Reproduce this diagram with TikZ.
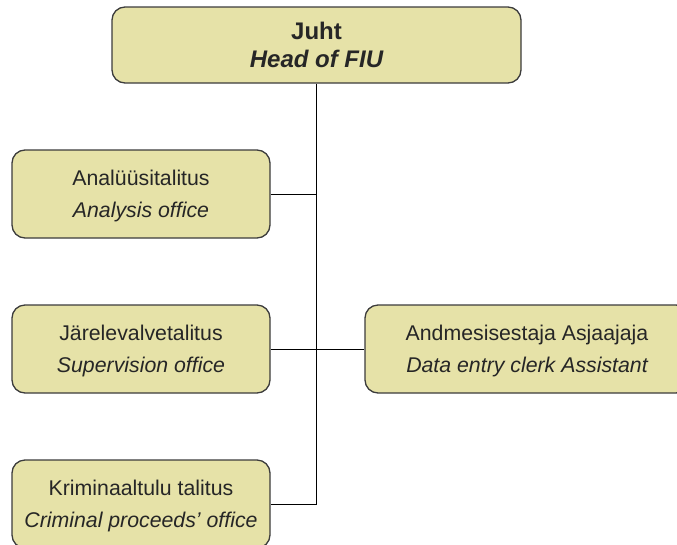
\documentclass[tikz,border=0pt]{standalone}
\usepackage{fontspec}
\setmainfont{Liberation Sans}
\definecolor{boxfill}{RGB}{230,226,168}
\definecolor{boxline}{RGB}{60,60,60}
\begin{document}
\begin{tikzpicture}[x=1pt,y=-1pt,
  unitbox/.style={draw=boxline, line width=1.3pt, fill=boxfill, rounded corners=13pt,
    align=center, inner sep=0pt, minimum height=88pt, text=black!85, text depth=0pt,
    font=\fontsize{21.3}{32}\selectfont},
  headbox/.style={unitbox, minimum height=76pt, font=\fontsize{24}{28}\selectfont\bfseries},
  link/.style={draw=black, line width=1pt}]
\clip (0,0) rectangle (677,544);
\fill[white] (0,0) rectangle (677,544);
\node[headbox, minimum width=409pt] (head) at (316.5,45) {Juht\\\itshape Head of FIU};
\node[unitbox, minimum width=258pt] (ana) at (141,194) {Analüüsitalitus\\\itshape Analysis office};
\node[unitbox, minimum width=258pt] (sup) at (141,349) {Järelevalvetalitus\\\itshape Supervision office};
\node[unitbox, minimum width=258pt] (crim) at (141,504) {Kriminaaltulu talitus\\\itshape Criminal proceeds’ office};
\node[unitbox, minimum width=324pt] (data) at (527,349) {Andmesisestaja Asjaajaja\\\itshape Data entry clerk Assistant};
\draw[link] (head.south) -- (head.south |- crim.east) -- (crim.east);
\draw[link] (ana.east) -- (ana.east -| head.south);
\draw[link] (sup.east) -- (data.west);
\end{tikzpicture}
\end{document}
